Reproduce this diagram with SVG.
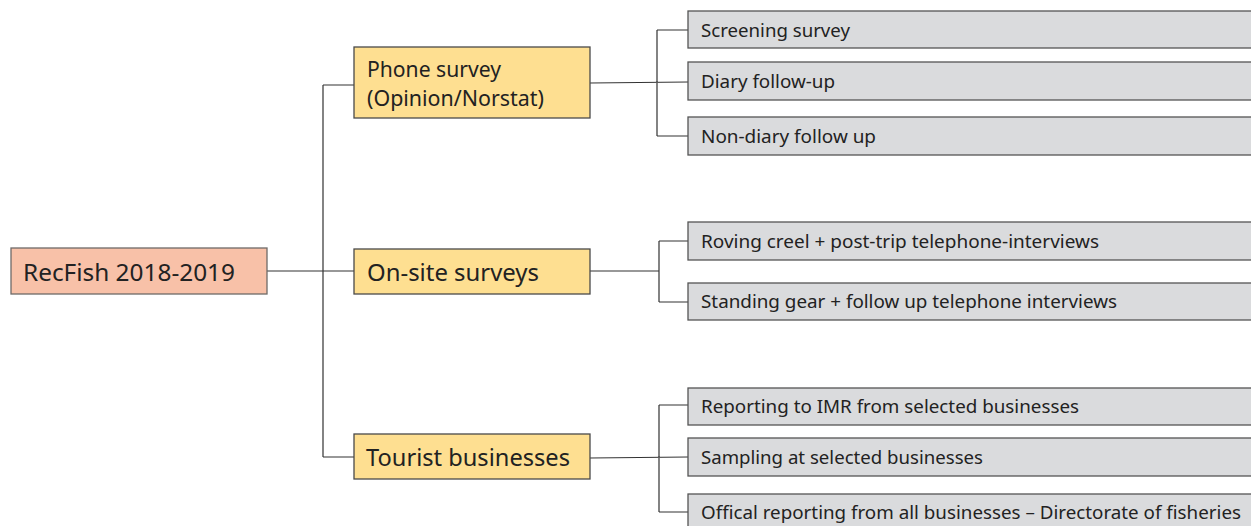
<svg xmlns="http://www.w3.org/2000/svg" width="1251" height="526" viewBox="0 0 1251 526">
<style>
.root{fill:#f8c1a8;stroke:#6e6a68;stroke-width:1.3}
.mid{fill:#fedf91;stroke:#4a4a4a;stroke-width:1.3}
.leaf{fill:#dadbdd;stroke:#555;stroke-width:1.3}
.t{font-family:"Noto Sans","Open Sans",sans-serif;fill:#222}
.big{font-size:23px}
.mt{font-size:21px}
.sm{font-size:18px}
.c{fill:none;stroke:#333;stroke-width:1.2}
</style>
<rect width="1251" height="526" fill="#fff"/>
<g id="connectors">
<path class="c" d="M267 271H323M323 85V457M323 85H354M323 271H354M323 457H354"/>
<path class="c" d="M590 83L688 82M657 30V136M657 30H688M657 136H688"/>
<path class="c" d="M590 271H659M659 241V302M659 241H688M659 302H688"/>
<path class="c" d="M590 458L688 457M659 405V512M659 405H688M659 512H688"/>
</g>
<g id="root"><rect class="root" x="11" y="248" width="256" height="46"/><text class="t big" x="23" y="281" textLength="212" lengthAdjust="spacingAndGlyphs">RecFish 2018-2019</text></g>
<g id="phone"><rect class="mid" x="354" y="47" width="236" height="71"/><text class="t mt" x="367" y="77" textLength="134" lengthAdjust="spacingAndGlyphs">Phone survey</text><text class="t mt" x="367" y="106" textLength="177" lengthAdjust="spacingAndGlyphs">(Opinion/Norstat)</text></g>
<g id="onsite"><rect class="mid" x="354" y="249" width="236" height="45"/><text class="t big" x="367" y="281" textLength="172" lengthAdjust="spacingAndGlyphs">On-site surveys</text></g>
<g id="tourist"><rect class="mid" x="354" y="434" width="236" height="45"/><text class="t big" x="366" y="466" textLength="204" lengthAdjust="spacingAndGlyphs">Tourist businesses</text></g>
<g id="screening"><rect class="leaf" x="688" y="11" width="570" height="37"/><text class="t sm" x="701" y="37" textLength="149" lengthAdjust="spacingAndGlyphs">Screening survey</text></g>
<g id="diary"><rect class="leaf" x="688" y="62" width="570" height="38"/><text class="t sm" x="701" y="88" textLength="134" lengthAdjust="spacingAndGlyphs">Diary follow-up</text></g>
<g id="nondiary"><rect class="leaf" x="688" y="117" width="570" height="38"/><text class="t sm" x="701" y="143" textLength="175" lengthAdjust="spacingAndGlyphs">Non-diary follow up</text></g>
<g id="roving"><rect class="leaf" x="688" y="222" width="570" height="38"/><text class="t sm" x="701" y="248" textLength="398" lengthAdjust="spacingAndGlyphs">Roving creel + post-trip telephone-interviews</text></g>
<g id="standing"><rect class="leaf" x="688" y="283" width="570" height="37"/><text class="t sm" x="701" y="308" textLength="416" lengthAdjust="spacingAndGlyphs">Standing gear + follow up telephone interviews</text></g>
<g id="reporting"><rect class="leaf" x="688" y="388" width="570" height="37"/><text class="t sm" x="701" y="413" textLength="378" lengthAdjust="spacingAndGlyphs">Reporting to IMR from selected businesses</text></g>
<g id="sampling"><rect class="leaf" x="688" y="438" width="570" height="38"/><text class="t sm" x="701" y="464" textLength="282" lengthAdjust="spacingAndGlyphs">Sampling at selected businesses</text></g>
<g id="offical"><rect class="leaf" x="688" y="494" width="570" height="40"/><text class="t sm" x="701" y="519" textLength="540" lengthAdjust="spacingAndGlyphs">Offical reporting from all businesses – Directorate of fisheries</text></g>
</svg>
